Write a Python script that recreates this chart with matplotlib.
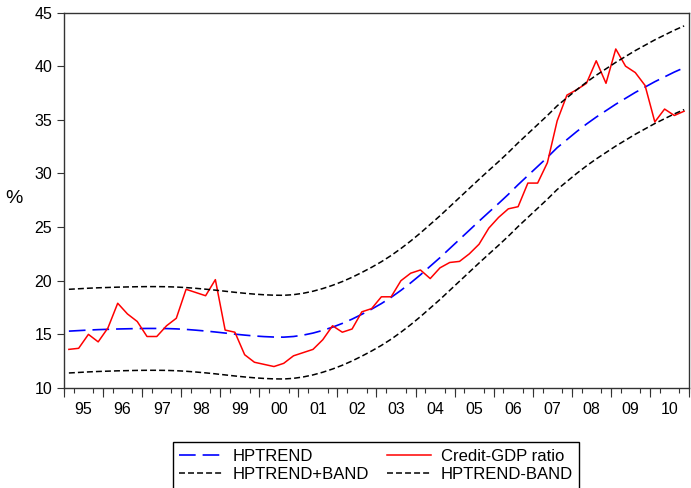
import numpy as np
import matplotlib.pyplot as plt

plt.rcParams['font.family'] = ['Liberation Sans', 'DejaVu Sans']
plt.rcParams['lines.scale_dashes'] = False

# Quarterly observations, 1995Q1 - 2010Q4
years = ['95', '96', '97', '98', '99', '00', '01', '02',
         '03', '04', '05', '06', '07', '08', '09', '10']

credit_gdp = [13.6, 13.7, 15.0, 14.3, 15.6, 17.9, 16.9, 16.2,
              14.8, 14.8, 15.8, 16.5, 19.2, 18.9, 18.6, 20.1,
              15.4, 15.2, 13.1, 12.4, 12.2, 12.0, 12.3, 13.0,
              13.3, 13.6, 14.5, 15.8, 15.2, 15.5, 17.1, 17.4,
              18.5, 18.5, 20.0, 20.7, 21.0, 20.2, 21.2, 21.7,
              21.8, 22.5, 23.4, 24.9, 25.9, 26.7, 26.9, 29.1,
              29.1, 31.0, 34.9, 37.3, 37.8, 38.4, 40.5, 38.4,
              41.6, 40.0, 39.4, 38.2, 34.8, 36.0, 35.4, 35.8]

hp_trend = [15.30, 15.35, 15.40, 15.44, 15.47, 15.50, 15.52, 15.54,
            15.55, 15.55, 15.54, 15.51, 15.46, 15.39, 15.31, 15.22,
            15.12, 15.02, 14.93, 14.85, 14.79, 14.75, 14.74, 14.80,
            14.93, 15.12, 15.37, 15.67, 16.02, 16.42, 16.87, 17.35,
            17.87, 18.45, 19.10, 19.80, 20.55, 21.35, 22.15, 23.00,
            23.85, 24.70, 25.55, 26.38, 27.20, 28.05, 28.95, 29.80,
            30.65, 31.50, 32.40, 33.15, 33.90, 34.60, 35.25, 35.85,
            36.45, 37.00, 37.55, 38.05, 38.55, 39.00, 39.45, 39.85]
band = 3.9

trend = np.array(hp_trend)
obs = np.arange(len(credit_gdp))

fig = plt.figure(figsize=(6.91, 4.88), dpi=100)
ax = fig.add_axes([64 / 691, 100 / 488, 625 / 691, 375.5 / 488])

l_trend, = ax.plot(obs, trend, color='#0000ff', lw=1.2, dashes=(12, 5),
                   label='HPTREND')
l_credit, = ax.plot(obs, credit_gdp, color='#ff0000', lw=1.1,
                    label='Credit-GDP ratio')
l_up, = ax.plot(obs, trend + band, color='black', lw=1.1, dashes=(4.3, 2.2),
                label='HPTREND+BAND')
l_dn, = ax.plot(obs, trend - band, color='black', lw=1.1, dashes=(4.3, 2.2),
                label='HPTREND-BAND')

ax.set_xlim(-0.5, len(obs) - 0.5)
ax.set_ylim(10, 45)
ax.set_yticks(np.arange(10, 46, 5))
ax.set_ylabel('%', fontsize=14, rotation=0, va='center', ha='center')
ax.yaxis.set_label_coords(-50 / 625, 0.505)

# year labels centred on each year, quarter ticks on the boundaries
ax.set_xticks(np.arange(len(years)) * 4 + 1.5)
ax.set_xticklabels(years)
ax.set_xticks(np.arange(-0.5, len(obs), 1), minor=True)
ax.tick_params(axis='x', which='major', length=0, pad=10, labelsize=11.5)
ax.tick_params(axis='x', which='minor', length=3.5, width=0.8, color='#333333')
ax.tick_params(axis='y', length=5, width=0.8, pad=3.5, labelsize=11.5,
               color='#333333')

sec = ax.secondary_xaxis('bottom')
sec.set_xticks(np.arange(-0.5, len(obs), 4))
sec.set_xticklabels([])
sec.tick_params(length=6.5, width=0.8, color='#333333')
sec.spines['bottom'].set_visible(False)

for s in ax.spines.values():
    s.set_linewidth(1.0)
    s.set_color('#333333')

fig.legend([l_trend, l_up, l_credit, l_dn],
           ['HPTREND', 'HPTREND+BAND', 'Credit-GDP ratio', 'HPTREND-BAND'],
           ncol=2, loc='upper center', bbox_to_anchor=(376 / 691, 46 / 488),
           borderaxespad=0, fancybox=False, framealpha=1, edgecolor='black',
           fontsize=12, handlelength=2.6, columnspacing=1.1,
           labelspacing=0.2, handletextpad=0.6, borderpad=0.4)

fig.savefig('out.png', dpi=100)
